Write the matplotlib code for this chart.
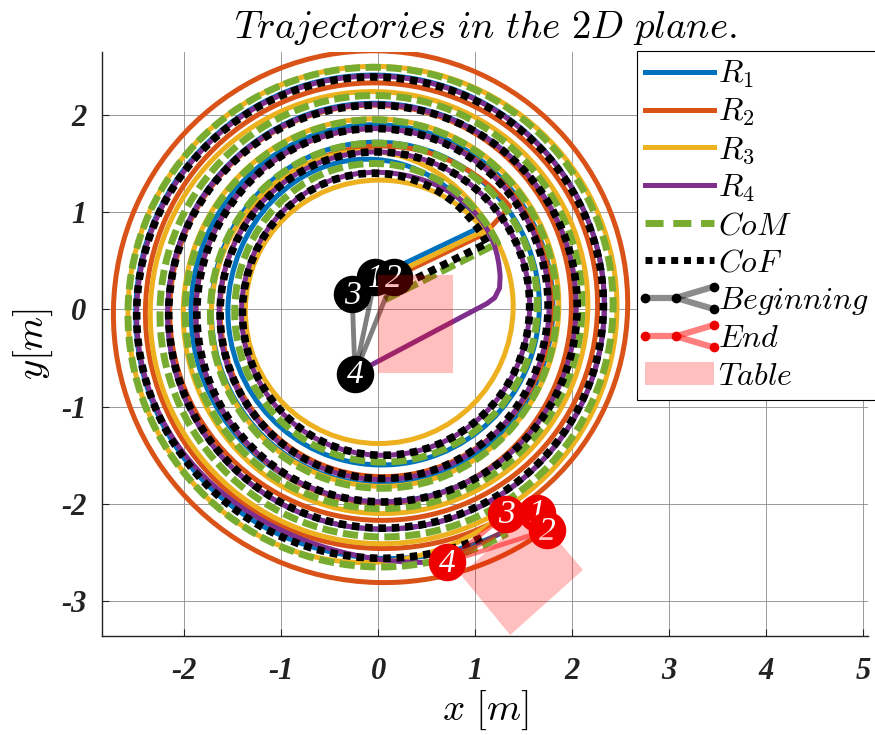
import numpy as np
import matplotlib
matplotlib.use("Agg")
import matplotlib.pyplot as plt
from matplotlib.path import Path
from matplotlib.patches import PathPatch, Rectangle, Polygon
from matplotlib.lines import Line2D
from matplotlib.legend_handler import HandlerBase

plt.rcParams["mathtext.fontset"] = "cm"
plt.rcParams["axes.unicode_minus"] = False

# ---------------------------------------------------------------- data
# straight approach from the start pose (x, y), then a CCW spiral given
# as polar knots (accumulated angle in degrees, radius in m)
r1_line_x = [-0.03, 1.02]
r1_line_y = [0.33, 0.83]
r1_deg = [40, 90, 180, 270, 360, 450, 540, 630, 720, 810, 900, 990, 1080,
          1170, 1260, 1350, 1440, 1530, 1620, 1710, 1748]
r1_rad = [1.36, 1.54, 1.55, 1.60, 1.66, 1.72, 1.72, 1.80, 1.80, 1.90, 1.93,
          1.98, 2.03, 2.12, 2.17, 2.26, 2.33, 2.41, 2.50, 2.56, 2.65]

r2_line_x = [0.16, 1.10]
r2_line_y = [0.33, 0.78]
r2_deg = [38, 90, 180, 270, 360, 450, 540, 630, 720, 810, 900, 990, 1080,
          1170, 1260, 1350, 1440, 1530, 1620, 1710, 1747]
r2_rad = [1.72, 1.68, 1.63, 1.72, 1.79, 1.86, 1.88, 1.99, 1.99, 2.10, 2.15,
          2.17, 2.26, 2.33, 2.40, 2.46, 2.57, 2.66, 2.73, 2.81, 2.85]

r3_line_x = [-0.27, 1.03]
r3_line_y = [0.16, 0.78]
r3_deg = [35, 90, 180, 270, 360, 395, 450, 540, 630, 720, 810, 900, 990,
          1080, 1170, 1260, 1350, 1440, 1530, 1620, 1710, 1743]
r3_rad = [1.36, 1.33, 1.37, 1.38, 1.39, 1.42, 1.62, 1.72, 1.82, 1.86, 1.96,
          2.01, 2.10, 2.16, 2.24, 2.35, 2.41, 2.46, 2.50, 2.58, 2.60, 2.47]

r4_line_x = [-0.24, 1.12, 1.20, 1.25]
r4_line_y = [-0.66, 0.06, 0.12, 0.22]
r4_deg = [15, 30, 90, 180, 270, 360, 450, 540, 630, 720, 810, 900, 990,
          1080, 1170, 1260, 1350, 1440, 1530, 1620, 1710, 1725]
r4_rad = [1.30, 1.37, 1.41, 1.41, 1.50, 1.56, 1.62, 1.64, 1.75, 1.76, 1.86,
          1.88, 1.98, 2.04, 2.11, 2.17, 2.26, 2.33, 2.40, 2.49, 2.57, 2.68]

com_line_x = [0.07, 1.23]
com_line_y = [0.10, 0.68]
com_deg = [29, 90, 180, 270, 360, 450, 540, 630, 720, 810, 900, 990, 1080,
           1170, 1260, 1350, 1440, 1530, 1620, 1710, 1740]
com_rad = [1.405, 1.50, 1.48, 1.57, 1.64, 1.71, 1.73, 1.84, 1.84, 1.95, 1.99,
           2.05, 2.10, 2.20, 2.25, 2.34, 2.42, 2.49, 2.58, 2.65, 2.66]

cof_line_x = [0.15, 1.12]
cof_line_y = [0.20, 0.68]
cof_deg = [31, 90, 180, 270, 360, 450, 540, 630, 720, 810, 900, 990, 1080,
           1170, 1260, 1350, 1440, 1530, 1620, 1710, 1735]
cof_rad = [1.31, 1.40, 1.40, 1.50, 1.56, 1.62, 1.63, 1.74, 1.75, 1.86, 1.87,
           1.98, 2.05, 2.10, 2.16, 2.25, 2.32, 2.39, 2.49, 2.56, 2.58]

# robot poses at the beginning and at the end (robots 1..4)
robot_ids = ["1", "2", "3", "4"]
start_x = [-0.03, 0.16, -0.27, -0.24]
start_y = [0.33, 0.33, 0.16, -0.66]
end_x = [1.64, 1.74, 1.32, 0.71]
end_y = [-2.09, -2.27, -2.10, -2.60]

# table footprint at the beginning and at the end
table_start_x = [0.0, 0.77, 0.77, 0.0]
table_start_y = [-0.65, -0.65, 0.35, 0.35]
table_end_x = [1.59, 2.11, 1.36, 0.85]
table_end_y = [-2.07, -2.68, -3.35, -2.73]

x_ticks = [-2, -1, 0, 1, 2, 3, 4, 5]
y_ticks = [-3, -2, -1, 0, 1, 2]

# ---------------------------------------------------------------- style
C_R1 = "#0072BD"
C_R2 = "#D95319"
C_R3 = "#EDB120"
C_R4 = "#7E2F8E"
C_COM = "#77AC30"
C_END = "#ee0000"

LW = 3.6


def trajectory_path(line_x, line_y, deg, rad):
    """Straight approach followed by a smooth polar spiral through the knots."""
    th = np.radians(deg)
    r = np.asarray(rad, dtype=float)
    px, py = r * np.cos(th), r * np.sin(th)
    dr = np.gradient(r, th)
    tx = dr * np.cos(th) - r * np.sin(th)
    ty = dr * np.sin(th) + r * np.cos(th)
    verts = list(zip(line_x, line_y))
    codes = [Path.MOVETO] + [Path.LINETO] * (len(verts) - 1)
    verts.append((px[0], py[0]))
    codes.append(Path.LINETO)
    for i in range(len(th) - 1):
        k = 4.0 / 3.0 * np.tan((th[i + 1] - th[i]) / 4.0)
        verts += [(px[i] + k * tx[i], py[i] + k * ty[i]),
                  (px[i + 1] - k * tx[i + 1], py[i + 1] - k * ty[i + 1]),
                  (px[i + 1], py[i + 1])]
        codes += [Path.CURVE4] * 3
    return Path(verts, codes)


fig = plt.figure(figsize=(8.75, 7.35), dpi=100)
ax = fig.add_axes([101.7 / 875, 99 / 735, (868 - 101.7) / 875, (636 - 51.7) / 735])
ax.set_xlim(-2.851, 5.048)
ax.set_ylim(-3.36, 2.651)

series = [
    (r1_line_x, r1_line_y, r1_deg, r1_rad, dict(edgecolor=C_R1, lw=LW, ls="-")),
    (r2_line_x, r2_line_y, r2_deg, r2_rad, dict(edgecolor=C_R2, lw=LW, ls="-")),
    (r3_line_x, r3_line_y, r3_deg, r3_rad, dict(edgecolor=C_R3, lw=LW, ls="-")),
    (r4_line_x, r4_line_y, r4_deg, r4_rad, dict(edgecolor=C_R4, lw=LW, ls="-")),
    (com_line_x, com_line_y, com_deg, com_rad,
     dict(edgecolor=C_COM, lw=5.0, ls=(0, (2.2, 0.8)), capstyle="butt")),
    (cof_line_x, cof_line_y, cof_deg, cof_rad,
     dict(edgecolor="black", lw=5.5, ls=(0, (1.0, 0.75)), capstyle="butt")),
]
for i, (lx, ly, dg, rd, kw) in enumerate(series):
    ax.add_patch(PathPatch(trajectory_path(lx, ly, dg, rd), fill=False,
                           joinstyle="round", zorder=2 + 0.1 * i, **kw))

# connection stars from robot 4 to the others
for xs, ys, col in [(start_x, start_y, (0, 0, 0, 0.5)),
                    (end_x, end_y, (1, 0, 0, 0.5))]:
    for j in range(3):
        ax.plot([xs[3], xs[j]], [ys[3], ys[j]], color=col, lw=3.5,
                solid_capstyle="butt", zorder=4)

# robot markers with their numbers
start_order = [0, 1, 2, 3]
end_order = [2, 0, 1, 3]
for xs, ys, order, col in [(start_x, start_y, start_order, "black"),
                           (end_x, end_y, end_order, C_END)]:
    for n, j in enumerate(order):
        ax.plot(xs[j], ys[j], "o", ms=27, color=col, mec="none", zorder=5 + 0.01 * n)
        ax.text(xs[j], ys[j] - 0.015, robot_ids[j], color="white", ha="center",
                va="center", fontsize=24, family="Liberation Serif",
                style="italic", zorder=5.005 + 0.01 * n)

# table footprints
table_kw = dict(facecolor=(1, 0, 0, 0.25), edgecolor="none", zorder=8)
ax.add_patch(Polygon(np.column_stack([table_start_x, table_start_y]), **table_kw))
ax.add_patch(Polygon(np.column_stack([table_end_x, table_end_y]), **table_kw))

# axes decoration
ax.set_xticks(x_ticks)
ax.set_yticks(y_ticks)
tick_font = dict(family="Liberation Serif", weight="bold", style="italic", size=22)
ax.set_xticklabels([str(v) for v in x_ticks], **tick_font)
ax.set_yticklabels([str(v) for v in y_ticks], **tick_font)
ax.tick_params(direction="in", length=5, width=0.8, pad=11, colors="#222222")
ax.tick_params(axis="x", pad=15)
ax.grid(True, color="#8a8a8a", lw=0.6)
ax.set_axisbelow(True)
for s in ["top", "right"]:
    ax.spines[s].set_visible(False)
for s in ["left", "bottom"]:
    ax.spines[s].set_color("#222222")
    ax.spines[s].set_linewidth(1.0)

ax.set_title(r"$Trajectories\ in\ the\ 2D\ plane.$", fontsize=28, pad=10)
ax.set_xlabel(r"$x\ [m]$", fontsize=28, labelpad=2)
ax.set_ylabel(r"$y[m]$", fontsize=28, labelpad=4)


class StarHandler(HandlerBase):
    def __init__(self, line_color, dot_color):
        super().__init__()
        self.line_color = line_color
        self.dot_color = dot_color

    def create_artists(self, legend, orig_handle, xdescent, ydescent,
                       width, height, fontsize, trans):
        x0 = -xdescent
        xm = x0 + 0.45 * width
        x1 = x0 + width
        yc = -ydescent + height / 2
        dy = 0.5 * height
        arts = []
        for xx, yy in [([x0, xm], [yc, yc]), ([xm, x1], [yc, yc + dy]),
                       ([xm, x1], [yc, yc - dy])]:
            ln = Line2D(xx, yy, color=self.line_color, lw=4.5, solid_capstyle="butt")
            ln.set_transform(trans)
            arts.append(ln)
        dots = Line2D([x0, xm, x1, x1], [yc, yc, yc + dy, yc - dy], ls="none",
                      marker="o", ms=7, color=self.dot_color, mec="none")
        dots.set_transform(trans)
        arts.append(dots)
        return arts


class _Star:
    pass


beg_handle, end_handle = _Star(), _Star()
handles = [
    Line2D([], [], color=C_R1, lw=LW),
    Line2D([], [], color=C_R2, lw=LW),
    Line2D([], [], color=C_R3, lw=LW),
    Line2D([], [], color=C_R4, lw=LW),
    Line2D([], [], color=C_COM, lw=5.0, ls=(0, (2.6, 1.4)), dash_capstyle="butt"),
    Line2D([], [], color="black", lw=5.0, ls=(0, (1.0, 0.85)), dash_capstyle="butt"),
    beg_handle,
    end_handle,
    Rectangle((0, 0), 1, 1, facecolor=(1, 0, 0, 0.25), edgecolor="none"),
]
labels = [r"$R_1$", r"$R_2$", r"$R_3$", r"$R_4$", r"$CoM$", r"$CoF$",
          r"$Beginning$", r"$End$", r"$Table$"]
leg = fig.legend(handles, labels, loc="upper left",
                 bbox_to_anchor=(637 / 875, 1 - 51 / 735),
                 fontsize=23, frameon=True, fancybox=False, framealpha=1,
                 edgecolor="black", handlelength=2.15, handletextpad=0.15,
                 labelspacing=0.2, borderpad=0.25, borderaxespad=0,
                 handler_map={beg_handle: StarHandler((0, 0, 0, 0.45), "black"),
                              end_handle: StarHandler((1, 0, 0, 0.5), C_END)})
leg.get_frame().set_linewidth(0.8)

fig.savefig("out.png", dpi=100)
